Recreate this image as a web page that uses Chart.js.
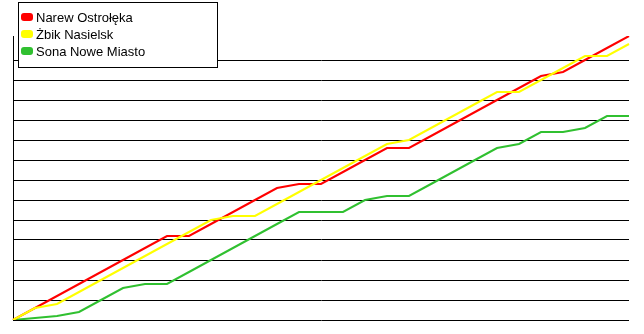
<!DOCTYPE html>
<html>
<head>
<meta charset="utf-8">
<script src="https://cdn.jsdelivr.net/npm/chart.js@4/dist/chart.umd.min.js"></script>
<style>
  html, body { margin: 0; padding: 0; background: #fff; }
  #wrap { width: 644px; height: 334px; }
</style>
</head>
<body>
<div id="wrap"><canvas id="c" width="644" height="334"></canvas></div>
<script>
const rounds = ["0","1","2","3","4","5","6","7","8","9","10","11","12","13","14","15","16","17","18","19","20","21","22","23","24","25","26","27","28"];
const seriesNames = ["Narew Ostrołęka", "Żbik Nasielsk", "Sona Nowe Miasto"];
const narew = [0,3,6,9,12,15,18,21,21,24,27,30,33,34,34,37,40,43,43,46,49,52,55,58,61,62,65,68,71];
const zbik  = [0,3,4,7,10,13,16,19,22,25,26,26,29,32,35,38,41,44,45,48,51,54,57,57,60,63,66,66,69];
const sona  = [0,0.5,1,2,5,8,9,9,12,15,18,21,24,27,27,27,30,31,31,34,37,40,43,44,47,47,48,51,51];
const seriesColors = ["#FF0000", "#FFFF00", "#30C030"];

const legendPlugin = {
  id: 'boxLegend',
  afterDraw(chart) {
    const ctx = chart.ctx;
    ctx.save();
    ctx.fillStyle = '#fff';
    ctx.fillRect(18, 2, 199, 65);
    ctx.strokeStyle = '#000';
    ctx.lineWidth = 1;
    ctx.strokeRect(18.5, 2.5, 199, 65);
    ctx.font = '13px "Liberation Sans", Arial, sans-serif';
    ctx.textBaseline = 'middle';
    chart.data.datasets.forEach((ds, i) => {
      const cy = 18 + i * 17;
      ctx.fillStyle = ds.borderColor;
      ctx.beginPath();
      ctx.roundRect(21, cy - 5, 12, 8, 3);
      ctx.fill();
      ctx.fillStyle = '#000';
      ctx.fillText(ds.label, 36, cy + 0.5);
    });
    ctx.restore();
  }
};

new Chart(document.getElementById('c'), {
  type: 'line',
  data: {
    labels: rounds,
    datasets: [
      { label: seriesNames[0], data: narew, borderColor: seriesColors[0], backgroundColor: seriesColors[0], order: 1 },
      { label: seriesNames[1], data: zbik,  borderColor: seriesColors[1], backgroundColor: seriesColors[1], order: 0 },
      { label: seriesNames[2], data: sona,  borderColor: seriesColors[2], backgroundColor: seriesColors[2], order: 2 }
    ]
  },
  options: {
    responsive: false,
    animation: false,
    layout: { padding: { left: 13, right: 15, top: 36, bottom: 14 } },
    elements: {
      line: { borderWidth: 2, tension: 0 },
      point: { radius: 0, hoverRadius: 0 }
    },
    plugins: { legend: { display: false }, tooltip: { enabled: false } },
    scales: {
      x: { display: false },
      y: {
        min: 0, max: 71,
        afterBuildTicks: (axis) => { axis.ticks = axis.ticks.filter(t => t.value % 5 === 0); },
        ticks: { display: false, stepSize: 5 },
        grid: { color: '#000', lineWidth: 1, drawTicks: false },
        border: { display: true, color: '#000', width: 1 }
      }
    }
  },
  plugins: [legendPlugin]
});
</script>
</body>
</html>
